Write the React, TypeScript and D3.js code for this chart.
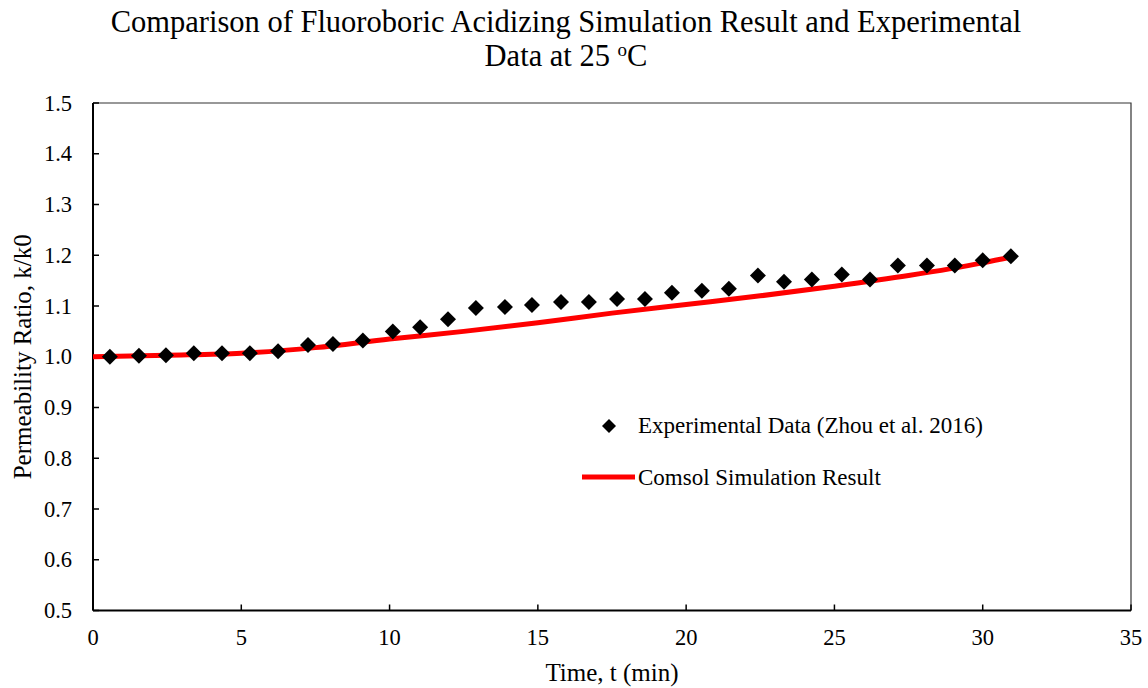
import React, { useEffect, useRef } from "react";
import * as d3 from "d3";

// experimental points (Zhou et al. 2016)
const expTime = [
  0.57, 1.55, 2.46, 3.4, 4.35, 5.29, 6.24, 7.25, 8.09, 9.1, 10.11, 11.03, 11.97,
  12.91, 13.89, 14.8, 15.78, 16.72, 17.67, 18.61, 19.52, 20.53, 21.44, 22.42,
  23.3, 24.24, 25.25, 26.2, 27.14, 28.12, 29.06, 30.0, 30.95,
];
const expRatio = [
  1.0, 1.002, 1.003, 1.007, 1.007, 1.007, 1.011, 1.023, 1.025, 1.032, 1.05,
  1.058, 1.074, 1.096, 1.098, 1.102, 1.108, 1.108, 1.114, 1.114, 1.126, 1.13,
  1.134, 1.16, 1.148, 1.152, 1.162, 1.152, 1.18, 1.18, 1.18, 1.19, 1.198,
];

// comsol simulation curve
const simTime = [0, 2.5, 5, 7.5, 10, 12.5, 15, 17.5, 20, 22.5, 25, 27.5, 30, 31];
const simRatio = [
  1.0, 1.003, 1.007, 1.018, 1.035, 1.05, 1.067, 1.086, 1.103, 1.12, 1.139,
  1.16, 1.185, 1.197,
];

const xTicks = [0, 5, 10, 15, 20, 25, 30, 35];
const yTicks = [0.5, 0.6, 0.7, 0.8, 0.9, 1.0, 1.1, 1.2, 1.3, 1.4, 1.5];

const W = 1148;
const H = 688;
const font = "'Liberation Serif', 'Times New Roman', serif";

export default function App() {
  const ref = useRef<SVGSVGElement>(null);

  useEffect(() => {
    const svg = d3.select(ref.current);
    svg.selectAll("*").remove();

    const left = 93,
      right = 1131,
      top = 103,
      bottom = 610.5;

    const x = d3.scaleLinear().domain([0, 35]).range([left, right]);
    const y = d3.scaleLinear().domain([0.5, 1.5]).range([bottom, top]);

    // title
    svg
      .append("text")
      .attr("x", 566)
      .attr("y", 32)
      .attr("text-anchor", "middle")
      .style("font-family", font)
      .style("font-size", "30.5px")
      .attr("fill", "#000")
      .text("Comparison of Fluoroboric Acidizing Simulation Result and Experimental");
    const t2 = svg
      .append("text")
      .attr("x", 566)
      .attr("y", 66)
      .attr("text-anchor", "middle")
      .style("font-family", font)
      .style("font-size", "30.5px")
      .attr("fill", "#000");
    t2.append("tspan").text("Data at 25 ");
    t2.append("tspan").attr("dy", -10).style("font-size", "19px").text("o");
    t2.append("tspan").attr("dy", 10).text("C");

    // frame: top/right thin
    svg
      .append("path")
      .attr("d", `M${left},${top}H${right}V${bottom}`)
      .attr("fill", "none")
      .attr("stroke", "#333")
      .attr("stroke-width", 1.2);

    // left axis
    const gy = svg.append("g").attr("transform", `translate(${left},0)`);
    gy.append("line")
      .attr("y1", top)
      .attr("y2", bottom)
      .attr("stroke", "#000")
      .attr("stroke-width", 2);
    gy.selectAll(".yt")
      .data(yTicks)
      .enter()
      .append("line")
      .attr("x1", 0)
      .attr("x2", 6)
      .attr("y1", (d) => y(d))
      .attr("y2", (d) => y(d))
      .attr("stroke", "#000")
      .attr("stroke-width", 1.5);
    gy.selectAll(".yl")
      .data(yTicks)
      .enter()
      .append("text")
      .attr("x", -21)
      .attr("y", (d) => y(d))
      .attr("dy", "0.34em")
      .attr("text-anchor", "end")
      .style("font-family", font)
      .style("font-size", "22.5px")
      .text((d) => d.toFixed(1));

    // bottom axis
    const gx = svg.append("g").attr("transform", `translate(0,${bottom})`);
    gx.append("line")
      .attr("x1", left)
      .attr("x2", right)
      .attr("stroke", "#000")
      .attr("stroke-width", 2);
    gx.selectAll(".xt")
      .data(xTicks)
      .enter()
      .append("line")
      .attr("x1", (d) => x(d))
      .attr("x2", (d) => x(d))
      .attr("y1", 0)
      .attr("y2", -6)
      .attr("stroke", "#000")
      .attr("stroke-width", 1.5);
    gx.selectAll(".xl")
      .data(xTicks)
      .enter()
      .append("text")
      .attr("x", (d) => x(d))
      .attr("y", 34)
      .attr("text-anchor", "middle")
      .style("font-family", font)
      .style("font-size", "22.5px")
      .text((d) => d);

    // axis titles
    svg
      .append("text")
      .attr("x", (left + right) / 2)
      .attr("y", 681)
      .attr("text-anchor", "middle")
      .style("font-family", font)
      .style("font-size", "25px")
      .text("Time, t (min)");
    svg
      .append("text")
      .attr("transform", `translate(31,${(top + bottom) / 2}) rotate(-90)`)
      .attr("text-anchor", "middle")
      .style("font-family", font)
      .style("font-size", "25px")
      .text("Permeability Ratio, k/k0");

    // simulation line
    const line = d3
      .line<number>()
      .x((d, i) => x(simTime[i]))
      .y((d) => y(d))
      .curve(d3.curveMonotoneX);
    svg
      .append("path")
      .attr("d", line(simRatio))
      .attr("fill", "none")
      .attr("stroke", "#ff0000")
      .attr("stroke-width", 5);

    // diamonds
    const diamond = (s: number) => `M0,${-s}L${s},0L0,${s}L${-s},0Z`;
    svg
      .append("g")
      .selectAll("path")
      .data(expRatio)
      .enter()
      .append("path")
      .attr("transform", (d, i) => `translate(${x(expTime[i])},${y(d)})`)
      .attr("d", diamond(8))
      .attr("fill", "#000");

    // legend
    const lg = svg.append("g");
    lg.append("path")
      .attr("transform", "translate(609,426)")
      .attr("d", diamond(7))
      .attr("fill", "#000");
    lg.append("text")
      .attr("x", 638)
      .attr("y", 433)
      .style("font-family", font)
      .style("font-size", "23px")
      .text("Experimental Data (Zhou et al. 2016)");
    lg.append("line")
      .attr("x1", 582)
      .attr("x2", 635)
      .attr("y1", 477)
      .attr("y2", 477)
      .attr("stroke", "#ff0000")
      .attr("stroke-width", 5);
    lg.append("text")
      .attr("x", 638)
      .attr("y", 485)
      .style("font-family", font)
      .style("font-size", "23px")
      .text("Comsol Simulation Result");
  }, []);

  return (
    <svg
      ref={ref}
      width={W}
      height={H}
      style={{ position: "absolute", left: 0, top: 0, background: "#fff" }}
    ></svg>
  );
}
